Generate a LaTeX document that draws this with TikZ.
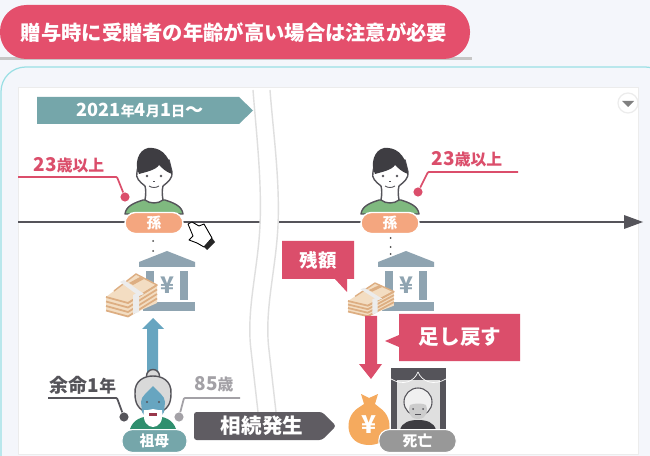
\documentclass[tikz,border=0pt]{standalone}
\usepackage{fontspec}
\setmainfont{Noto Sans CJK JP}
\definecolor{titlered}{HTML}{E44F6C}
\definecolor{callred}{HTML}{DB4E6B}
\definecolor{teal1}{HTML}{75A6AA}
\definecolor{axisgray}{HTML}{55545A}
\definecolor{hairdark}{HTML}{3E3D42}
\definecolor{darkgray}{HTML}{5F5C62}
\definecolor{midgray}{HTML}{A3A1A6}
\definecolor{bankgray}{HTML}{8FA4B1}
\definecolor{moneyfill}{HTML}{F3DDC2}
\definecolor{moneyline}{HTML}{DDAE82}
\definecolor{skyblue}{HTML}{67A5C0}
\definecolor{orange1}{HTML}{F4A67F}
\definecolor{bagorange}{HTML}{F5AA5E}
\definecolor{shirtgreen}{HTML}{7FB97F}
\definecolor{grannygreen}{HTML}{2F8F6E}
\definecolor{cardline}{HTML}{9ADFE4}
\definecolor{pagebg}{HTML}{F4F6FB}
\tikzset{
  pill/.style={rounded corners=6pt,minimum height=12pt,text=white,font=\bfseries\fontsize{8.4}{8}\selectfont,inner sep=0pt},
  lead/.style={line width=1pt,rounded corners=.5pt},
  leaddot/.style={circle,inner sep=0pt,minimum size=5.2pt},
  tagtext/.style={font=\bfseries\fontsize{10.8}{11}\selectfont},
  calltext/.style={text=white,font=\bfseries\fontsize{11.7}{12}\selectfont,inner sep=0pt},
  outl/.style={draw=axisgray,line width=.8pt,line join=round},
  bank/.pic={
    \fill[bankgray] (0,0)--(28,11)--(28,16)--(-28,16)--(-28,11)--cycle;
    \fill[bankgray] (-21,20) rectangle (-13,49);
    \fill[bankgray] (13,20) rectangle (21,49);
    \fill[bankgray] (-24,51) rectangle (28,60);
    \node[text=bankgray,font=\bfseries\fontsize{13}{13}\selectfont,inner sep=0pt] at (0,34) {¥};
  },
  money/.pic={
    \fill[moneyfill] (0,0)--(30,-23)--(51,-12)--(51,6)--(22,19)--(0,13)--cycle;
    \foreach \d in {0,4.5,9,13.5}{
      \draw[moneyline,line width=1pt] (0,\d)--(22,\d+6)--(51,\d-12);
    }
    \draw[moneyline,line width=.8pt] (8,-6)--(30,-23)--(51,-12)--(22,6);
    \fill[moneyline] (23,-14)--(34,-20)--(38,-18)--(27,-12)--cycle;
    \fill[white!85!gray] (27,-2)--(33,-5)--(33,15)--(27,17)--cycle;
    \fill[white!85!gray] (14,-15)--(18,-17)--(38,-3)--(33,-1)--cycle;
  },
  boy/.pic={
    \draw[outl,fill=shirtgreen] (-29,66)..controls (-28,58) and (-20,55) .. (-11,52)--(11,52)..controls (20,55) and (28,58) .. (29,66)--cycle;
    \draw[outl,fill=white] (-9,52)..controls (-8,46) and (-8,42) .. (-9,38)..controls (-14,34) and (-19,30) .. (-17,24)
      --(-15,12)--(15,12)--(18,24)..controls (19,30) and (14,34) .. (9,38)..controls (8,42) and (8,46) .. (9,52)..controls (4,56) and (-4,56) .. (-9,52)--cycle;
    \fill[hairdark] (-15,26)..controls (-20,16) and (-16,2) .. (-6,0)..controls (4,-1) and (16,4) .. (18,26)..controls (12,24) and (8,20) .. (5,17)
      ..controls (2,22) and (-8,24) .. (-15,26)--cycle;
    \fill[axisgray] (-7,28) circle (1.4) (7,28) circle (1.4);
    \draw[axisgray,line width=.5pt] (-5,38)..controls (-2,40) and (2,40) .. (5,38);
    \draw[axisgray,line width=.5pt] (-1,33)--(1,33);
  },
  granny/.pic={
    \fill[grannygreen] (-23,59)..controls (-20,50) and (-12,46) .. (0,46)..controls (12,46) and (20,50) .. (23,59)--cycle;
    \draw[outl,fill=gray!30] (0,6) circle (6.5);
    \draw[outl,fill=gray!30] (-18,24)..controls (-19,10) and (-8,6) .. (0,6)..controls (8,6) and (19,10) .. (18,24)..controls (18,34) and (14,38) .. (11,40)--(-11,40)..controls (-14,38) and (-18,34) .. (-18,24)--cycle;
    \fill[skyblue] (-12,32)..controls (-12,26) and (-5,22) .. (0,16)..controls (5,22) and (12,26) .. (12,32)--(11,42)..controls (8,50) and (-8,50) .. (-11,42)--cycle;
    \fill[white] (-9,40)..controls (-5,41) and (-3,39) .. (0,39)..controls (3,39) and (5,41) .. (9,40)..controls (11,52) and (5,57) .. (0,57)..controls (-5,57) and (-11,52) .. (-9,40)--cycle;
    \fill[axisgray] (-6,32) circle (1.2) (6,32) circle (1.2);
    \fill[callred!70!black] (-4,43) rectangle (4,46);
  },
}
\begin{document}
\begin{tikzpicture}[x=0.02cm,y=-0.02cm,>=stealth,line join=round]
  \useasboundingbox (0,0) rectangle (650,456);
  \clip (0,0) rectangle (650,456);
  \fill[pagebg] (0,0) rectangle (650,456);
  % title and card
  \fill[gray!45] (0,57) rectangle (472,60);
  \fill[titlered,rounded corners=15pt] (0,5) rectangle (470,59);
  \node[text=white,font=\bfseries\fontsize{11.55}{12}\selectfont,inner sep=0pt] (title) at (234,33) {贈与時に受贈者の年齢が高い場合は注意が必要};
  \draw[cardline,line width=.7pt,fill=pagebg,rounded corners=14pt] (1,67) rectangle (670,490);
  \draw[gray!15,fill=white] (18,87) rectangle (638,454);

  % axis and break
  \draw[axisgray,line width=1.6pt] (18,222)--(260,222);
  \draw[axisgray,line width=1.6pt] (278,222)--(626,222);
  \fill[axisgray] (624,215)--(643,222)--(624,229)--cycle;
  \draw[gray!25,line width=.8pt] (253,90)..controls (256,130) and (262,180) .. (260,225)..controls (258,270) and (246,310) .. (251,350)--(258,412);
  \draw[gray!25,line width=.8pt] (270,90)..controls (273,130) and (280,180) .. (278,225)..controls (276,270) and (264,310) .. (269,350)--(276,412);

  % date arrow
  \fill[teal1] (37,97)--(239,97)--(253,110.5)--(239,124)--(37,124)--cycle;
  \node[text=white,font=\bfseries\fontsize{10.3}{10}\selectfont,inner sep=0pt] (date) at (140,110.5) {2021{\fontsize{8}{8}\selectfont 年}4{\fontsize{8}{8}\selectfont 月}1{\fontsize{8}{8}\selectfont 日}〜};

  % left side
  \pic at (154,148) {boy};
  \node[pill,fill=orange1,draw=white,line width=.8pt,minimum width=33pt] (mago1) at (154,223) {孫};
  \foreach \yy in {241,251,261}{\fill[black!70] (153,\yy) circle (1);}
  \pic at (167,251) {bank};
  \pic at (106,297) {money};
  \node[text=callred,tagtext,inner sep=0pt] (age1) at (69,165) {23{\fontsize{9}{9}\selectfont 歳以上}};
  \node[leaddot,fill=callred] (dot1) at (125,197) {};
  \coordinate (end1) at (18,177);
  \draw[lead,callred] (end1)--(117,177)--(dot1);

  \fill[skyblue] (153,318)--(164,329)--(158,329)--(158,372)--(147,372)--(147,329)--(142,329)--cycle;
  \pic at (153,370) {granny};
  \node[pill,fill=teal1,draw=white,line width=.6pt,minimum width=37pt,minimum height=13pt] (sobo) at (154.5,441) {祖母};
  \node[text=axisgray,tagtext,inner sep=0pt] (life) at (83,385) {余命1{\fontsize{9.5}{9}\selectfont 年}};
  \node[leaddot,fill=axisgray] (dot2) at (124,417) {};
  \coordinate (end2) at (48,398);
  \draw[lead,axisgray] (end2)--(117,398)--(dot2);
  \node[text=midgray,tagtext,inner sep=0pt] (age2) at (214,384) {85{\fontsize{9}{9}\selectfont 歳}};
  \node[leaddot,fill=midgray] (dot3) at (179,417) {};
  \coordinate (end3) at (240,398);
  \draw[lead,midgray] (end3)--(184,398)--(dot3);

  % cursor
  \draw[black,fill=white,line width=.5pt] (188,224)--(192,222)--(199,226)--(204,224)--(212,238)--(204,247)--(197,243)--(189,240)--(193,236)--cycle;
  \fill[black!85] (204,247)--(212,238)--(215,242)--(207,250)--cycle;

  % inheritance arrow
  \fill[darkgray,rounded corners=1.5pt] (194,412)--(322,412)--(336,426)--(322,440)--(194,440)--cycle;
  \node[calltext] (souzoku) at (262,426) {相続発生};

  % right side
  \pic at (390,148) {boy};
  \node[pill,fill=orange1,draw=white,line width=.8pt,minimum width=33pt] (mago2) at (390,223) {孫};
  \foreach \yy in {238,247,254}{\fill[black!70] (390.5,\yy) circle (1);}
  \pic at (406,251) {bank};
  \node[text=callred,tagtext,inner sep=0pt] (age3) at (467,159) {23{\fontsize{9}{9}\selectfont 歳以上}};
  \node[leaddot,fill=callred] (dot4) at (418,192) {};
  \coordinate (end4) at (518,172);
  \draw[lead,callred] (end4)--(428,172)--(dot4);

  \fill[callred] (282,241)--(354,241)--(354,279)--(347,279)--(347,292)--(335,279)--(282,279)--cycle;
  \node[calltext,font=\bfseries\fontsize{10.5}{11}\selectfont] (zangaku) at (318,260) {残額};
  \pic[xscale=.9,yscale=.78] at (348,301) {money};

  \fill[callred] (365,316)--(377,316)--(377,364)--(382,364)--(371,379)--(359,364)--(365,364)--cycle;
  \fill[callred] (399,314)--(520,314)--(520,361)--(399,361)--(399,347)--(385,341)--(399,335)--cycle;
  \node[calltext] (tasu) at (460,337) {足し戻す};

  % money bag
  \fill[bagorange] (361,394)--(369,398)--(378,394)--(375,404)--(380,408)..controls (395,418) and (393,445) .. (369,445)..controls (345,445) and (343,418) .. (358,408)--(364,404)--cycle;
  \node[text=white,font=\bfseries\fontsize{14}{14}\selectfont,inner sep=0pt] (yen) at (369,425) {¥};

  % portrait
  \fill[axisgray] (391,368) rectangle (446,432);
  \fill[gray!25] (397,380) rectangle (440,430);
  \fill[axisgray] (394,371)..controls (402,382) and (412,382) .. (418,371)..controls (424,382) and (434,382) .. (443,371)--(443,368)--(394,368)--cycle;
  \draw[white,line width=.4pt] (391,379)..controls (403,386) and (414,382) .. (418,372)..controls (422,382) and (434,386) .. (446,379);
  \fill[hairdark] (400,430)..controls (402,422) and (410,420) .. (418,420)..controls (426,420) and (434,422) .. (436,430)--cycle;
  \draw[axisgray,line width=.6pt,fill=gray!12] (418,402) circle (14);
  \fill[gray!40] (418,419)..controls (408,419) and (408,409) .. (410,405)..controls (414,403) and (423,403) .. (426,405)..controls (428,409) and (428,419) .. (418,419)--cycle;
  \fill[axisgray] (413,409) circle (1) (423,409) circle (1);
  \draw[axisgray,line width=.4pt] (415,414)--(421,414);
  \node[pill,fill=gray!85!black!70,draw=white,line width=.6pt,minimum width=44pt,minimum height=13pt] (shibou) at (417.5,441) {死亡};

  % dropdown
  \draw[gray!15,fill=white,line width=.7pt] (628,103) circle (10);
  \fill[gray] (622,101)--(634,101)--(628,107)--cycle;
\end{tikzpicture}
\end{document}
